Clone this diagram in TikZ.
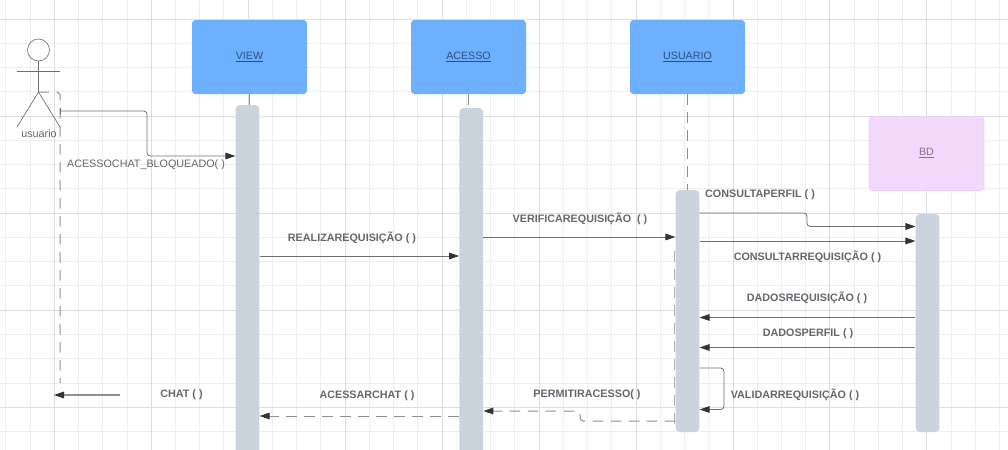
\documentclass[tikz,border=0pt]{standalone}
\usepackage{fontspec}
\setmainfont{Liberation Sans}
\usetikzlibrary{arrows.meta}
\definecolor{gridminor}{HTML}{EEEEEE}
\definecolor{gridmajor}{HTML}{DDDDDD}
\definecolor{viewblue}{HTML}{6CB0FF}
\definecolor{bdpink}{HTML}{F2D9FC}
\definecolor{bdedge}{HTML}{EBD0F8}
\definecolor{barfill}{HTML}{CBD3DC}
\definecolor{linegray}{HTML}{6F6F6F}
\definecolor{dashgray}{HTML}{8F8F8F}
\definecolor{msgtext}{HTML}{63676C}
\definecolor{tipdark}{HTML}{333333}
\definecolor{viewtext}{HTML}{2F4F80}
\definecolor{bdtext}{HTML}{8A6F9C}
\tikzset{
  classbox/.style={minimum width=86.25pt,minimum height=55.5pt,inner sep=0pt,rounded corners=2.5pt,font=\fontsize{8}{10}\selectfont},
  lifebar/.style={fill=barfill,minimum width=17.8pt,inner sep=0pt,rounded corners=3pt},
  msg/.style={draw=linegray,line width=0.6pt,rounded corners=2.5pt,-{Triangle[length=7.5pt,width=5pt,fill=tipdark,color=tipdark]}},
  msgback/.style={msg,draw=dashgray,line width=0.75pt,dash pattern=on 8pt off 5.5pt},
  lifeline/.style={draw=dashgray,line width=0.75pt,dash pattern=on 8pt off 5.5pt},
  msglabel/.style={text=msgtext,inner sep=0pt,font=\fontsize{8.08}{10}\selectfont\bfseries},
  actorline/.style={draw=linegray,line width=0.5pt},
}
\begin{document}
\begin{tikzpicture}[x=0.75pt,y=-0.75pt]
  \useasboundingbox (0,0) rectangle (1008,450);
  \clip (0,0) rectangle (1008,450);
  % grid
  \foreach \n in {0,...,41} {
    \pgfmathsetmacro{\gx}{5.82+24.24*\n}
    \draw[gridminor,line width=0.75pt] (\gx,0) -- (\gx,450);
  }
  \foreach \n in {0,...,18} {
    \pgfmathsetmacro{\gy}{19+24.27*\n}
    \draw[gridminor,line width=0.75pt] (0,\gy) -- (1008,\gy);
  }
  \foreach \n in {0,...,10} {
    \pgfmathsetmacro{\gx}{54.3+96.96*\n}
    \draw[gridmajor,line width=0.75pt] (\gx,0) -- (\gx,450);
  }
  \foreach \n in {0,...,4} {
    \pgfmathsetmacro{\gy}{19+97.08*\n}
    \draw[gridmajor,line width=0.75pt] (0,\gy) -- (1008,\gy);
  }
  % boxes
  \node[classbox,fill=viewblue,text=viewtext] (view) at (249.5,57) {\underline{VIEW}};
  \node[classbox,fill=viewblue,text=viewtext] (acesso) at (468.5,57) {\underline{ACESSO}};
  \node[classbox,fill=viewblue,text=viewtext] (usuario) at (687.5,57) {\underline{USUARIO}};
  \node[classbox,fill=bdpink,draw=bdedge,text=bdtext] (bd) at (926.5,153.5) {\underline{BD}};
  % lifelines behind the bars
  \draw[lifeline] (view.south) -- ++(0,11);
  \draw[lifeline] (acesso.south) -- ++(0,14);
  \draw[lifeline] (usuario.south) -- ++(0,96);
  \draw[lifeline,draw=dashgray!70] (674.5,251) -- (674.5,424);
  % bars
  \node[lifebar,minimum height=270pt] (viewbar) at (247.5,285) {};
  \node[lifebar,minimum height=270pt] (acessobar) at (471.2,288) {};
  \node[lifebar,minimum height=181.5pt] (usuariobar) at (687.5,311) {};
  \node[lifebar,minimum height=163.5pt] (bdbar) at (927.6,323) {};
  % actor
  \draw[actorline] (38.5,50) circle (11);
  \coordinate (hip) at (38.5,92);
  \draw[actorline] (38.5,61) -- (hip);
  \draw[actorline] (17,71) -- (60,71);
  \draw[actorline] (17,127) -- (hip) -- (60,127);
  \node[text=msgtext,inner sep=0pt,font=\fontsize{8.08}{10}\selectfont] (actorname) at (39,133.5) {usuario};
  \coordinate (actorline) at (60,383);
  \draw[lifeline,rounded corners=2.5pt] (hip) -| (actorline);
  % messages
  \coordinate (actorout) at (60,111);
  \coordinate (chatstart) at (120,395);
  \coordinate (chatend) at (54,395);
  \draw[msg] (actorout) -- (147,111) -- (147,156) -- (viewbar.west |- 0,156);
  \draw[linegray,line width=0.5pt] (60,108) -- (60,114);
  \draw[msg] (viewbar.east |- 0,256) -- (acessobar.west |- 0,256);
  \draw[msg] (acessobar.east |- 0,237) -- (usuariobar.west |- 0,237);
  \draw[msg] (usuariobar.east |- 0,213) -- (807,213) -- (807,226.5) -- (bdbar.west |- 0,226.5);
  \draw[msg] (usuariobar.east |- 0,241) -- (bdbar.west |- 0,241);
  \draw[msg] (bdbar.west |- 0,317.5) -- (usuariobar.east |- 0,317.5);
  \draw[msg] (bdbar.west |- 0,347.5) -- (usuariobar.east |- 0,347.5);
  \draw[msg] (usuariobar.east |- 0,368) -- (724,368) -- (724,409.5) -- (usuariobar.east |- 0,409.5);
  \draw[msgback] (usuariobar.west |- 0,421) -- (580,421) -- (580,411) -- (acessobar.east |- 0,411);
  \draw[msgback] (acessobar.west |- 0,416) -- (viewbar.east |- 0,416);
  \draw[msg,draw=dashgray,line width=0.8pt] (chatstart) -- (chatend);
  % labels
  \node[msglabel,font=\fontsize{8.08}{10}\selectfont] (lblbloqueado) at (146,165) {ACESSOCHAT\_BLOQUEADO( )};
  \node[msglabel] (lblrealiza) at (352,238) {REALIZAREQUISIÇÃO ( )};
  \node[msglabel] (lblverifica) at (580,218.5) {VERIFICAREQUISIÇÃO\ \ ( )};
  \node[msglabel] (lblperfil) at (760,195) {CONSULTAPERFIL ( )};
  \node[msglabel] (lblconsulta) at (807.5,256.5) {CONSULTARREQUISIÇÃO ( )};
  \node[msglabel] (lbldados) at (807,298) {DADOSREQUISIÇÃO ( )};
  \node[msglabel] (lbldadosperfil) at (808,334) {DADOSPERFIL ( )};
  \node[msglabel] (lblvalidar) at (795,395) {VALIDARREQUISIÇÃO ( )};
  \node[msglabel] (lblpermitir) at (587,395) {PERMITIRACESSO( )};
  \node[msglabel] (lblacessar) at (367,395.5) {ACESSARCHAT ( )};
  \node[msglabel] (lblchat) at (181.5,395) {CHAT ( )};
\end{tikzpicture}
\end{document}
